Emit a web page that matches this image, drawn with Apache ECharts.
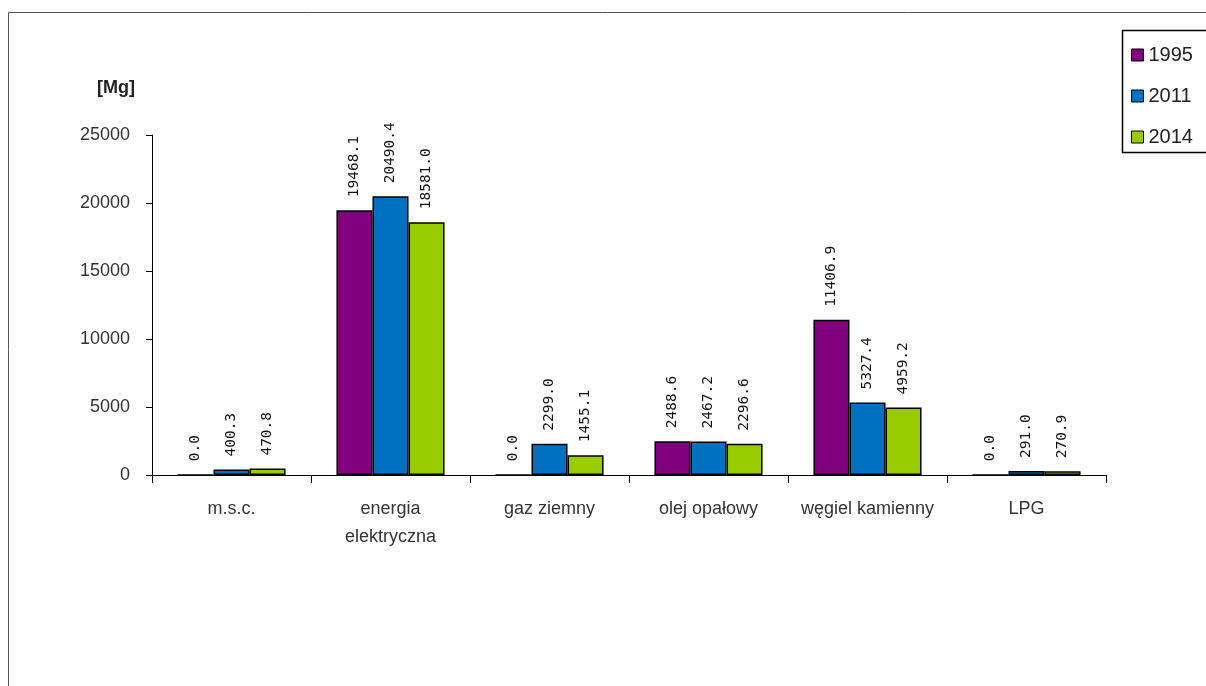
<!DOCTYPE html>
<html><head><meta charset="utf-8">
<script src="https://cdn.jsdelivr.net/npm/echarts@6/dist/echarts.min.js"></script>
<style>html,body{margin:0;padding:0;background:#fff}#c{width:1206px;height:686px}</style>
</head><body><div id="c"></div>
<script>
const categories = ['m.s.c.', 'energia\nelektryczna', 'gaz ziemny', 'olej opałowy', 'węgiel kamienny', 'LPG'];
const years = ['1995', '2011', '2014'];
const v1995 = [0.0, 19468.1, 0.0, 2488.6, 11406.9, 0.0];
const v2011 = [400.3, 20490.4, 2299.0, 2467.2, 5327.4, 291.0];
const v2014 = [470.8, 18581.0, 1455.1, 2296.6, 4959.2, 270.9];
const yTicks = [0, 5000, 10000, 15000, 20000, 25000];
const colors = ['#800080', '#0070C0', '#99CC00'];

const chart = echarts.init(document.getElementById('c'), null, {renderer: 'canvas'});
const series = [v1995, v2011, v2014].map((d, i) => ({
  name: years[i],
  type: 'bar',
  data: d,
  barGap: '0%',
  barCategoryGap: '32%',
  itemStyle: {color: colors[i], borderColor: '#000', borderWidth: 1.5},
  label: {
    show: true, position: 'top', rotate: 90, align: 'left', verticalAlign: 'middle',
    distance: 13, formatter: p => p.value.toFixed(1),
    fontFamily: 'DejaVu Sans Mono', fontSize: 14.5, color: '#111'
  }
}));
chart.setOption({
  animation: false,
  backgroundColor: '#fff',
  graphic: [
    {type: 'rect', shape: {x: 8.5, y: 12.5, width: 1400, height: 900}, style: {fill: 'none', stroke: '#555', lineWidth: 1}, z: -1},
    {type: 'rect', shape: {x: 1122.5, y: 30.5, width: 200, height: 122}, style: {fill: '#fff', stroke: '#000', lineWidth: 1.5}, z: 0}
  ],
  legend: {
    orient: 'vertical', left: 1126, top: 40, itemWidth: 12, itemHeight: 12, itemGap: 21,
    icon: 'rect', data: years, z: 10,
    itemStyle: {borderColor: '#000', borderWidth: 1},
    textStyle: {fontFamily: 'Liberation Sans', fontSize: 20, color: '#222'}
  },
  grid: {left: 152, right: 100, top: 135, bottom: 211, containLabel: false},
  xAxis: {
    type: 'category', data: categories,
    axisLine: {lineStyle: {color: '#000', width: 1}},
    axisTick: {show: true, length: 8, alignWithLabel: false, lineStyle: {color: '#000'}},
    axisLabel: {margin: 20, fontFamily: 'Liberation Sans', fontSize: 18, color: '#333', lineHeight: 28, interval: 0}
  },
  yAxis: {
    type: 'value', min: 0, max: 25000, interval: 5000,
    name: '[Mg]', nameLocation: 'end', nameGap: 47,
    nameTextStyle: {align: 'right', verticalAlign: 'middle', padding: [0, 17, 0, 0], fontFamily: 'Liberation Sans', fontWeight: 'bold', fontSize: 18, color: '#222'},
    axisLine: {show: true, lineStyle: {color: '#000', width: 1}},
    axisTick: {show: true, length: 6, lineStyle: {color: '#000'}},
    splitLine: {show: false},
    axisLabel: {margin: 22, fontFamily: 'Liberation Sans', fontSize: 18, color: '#333', formatter: v => yTicks.includes(v) ? String(v) : ''}
  },
  series
});
</script></body></html>
